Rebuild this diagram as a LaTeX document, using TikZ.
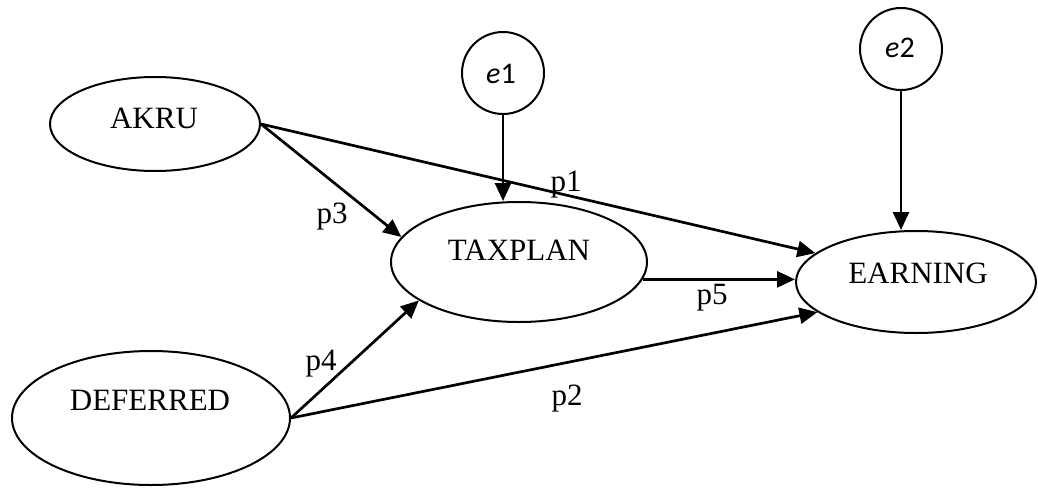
\documentclass[tikz,border=0pt]{standalone}
\usepackage{fontspec}
\setmainfont{Liberation Serif}
\newfontfamily\errfont{Carlito}
\usetikzlibrary{shapes.geometric,arrows.meta}
\begin{document}
\begin{tikzpicture}[x=1pt,y=-1pt,
  latent/.style={ellipse,draw,line width=2pt,inner sep=0pt},
  errvar/.style={circle,draw,line width=2pt,inner sep=0pt,minimum size=82pt},
  vlabel/.style={anchor=base,inner sep=0pt,font=\fontsize{31}{36}\selectfont},
  plabel/.style={anchor=base,inner sep=0pt,font=\fontsize{31}{36}\selectfont},
  elabel/.style={anchor=base,inner sep=0pt,font=\errfont\fontsize{30}{34}\selectfont},
  link/.style={line width=2.7pt,-{Triangle[length=18pt,width=16pt]}}]
\useasboundingbox (0,0) rectangle (1038,487);

% latent variables
\node[latent,minimum width=210pt,minimum height=94pt] (akru) at (155,124) {};
\node[latent,minimum width=278pt,minimum height=134pt] (deferred) at (151,418) {};
\node[latent,minimum width=256pt,minimum height=120pt] (taxplan) at (519,262) {};
\node[latent,minimum width=240pt,minimum height=102pt] (earning) at (916,282) {};

% error terms
\node[errvar] (e1) at (503,73) {};
\node[errvar] (e2) at (901,49) {};

% variable names
\node[vlabel] (akru-t) at (154,128) {AKRU};
\node[vlabel] (deferred-t) at (150,410) {DEFERRED};
\node[vlabel] (taxplan-t) at (519,260) {TAXPLAN};
\node[vlabel] (earning-t) at (918,283) {EARNING};
\node[elabel] (e1-t) at (501,83) {\textit{e}1};
\node[elabel] (e2-t) at (900,57) {\textit{e}2};

% paths
\draw[link] (akru.east) -- (taxplan.168);
\draw[link] (akru.east) -- (earning.164);
\draw[link] (deferred.east) -- (taxplan.201);
\draw[link] (deferred.east) -- (earning.197);
\draw[link] (taxplan.-8) -- (taxplan.-8 -| earning.west);
\draw[link] (e1.south) -- (e1.south |- taxplan.north);
\draw[link] (e2.south) -- (e2.south |- earning.north);

% path coefficients
\node[plabel] (p1) at (566,191) {p1};
\node[plabel] (p2) at (567,405) {p2};
\node[plabel] (p3) at (332,223) {p3};
\node[plabel] (p4) at (321,370) {p4};
\node[plabel] (p5) at (712,304) {p5};
\end{tikzpicture}
\end{document}
